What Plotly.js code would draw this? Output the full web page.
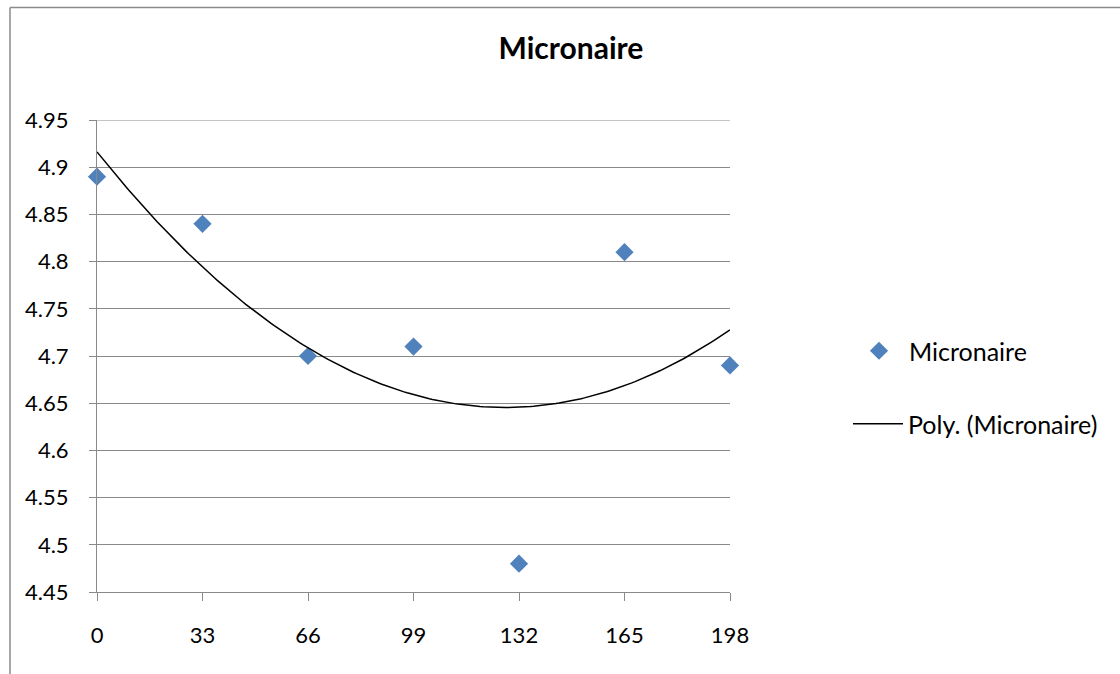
<!DOCTYPE html>
<html>
<head>
<meta charset="utf-8">
<script src="https://cdn.plot.ly/plotly-3.0.1.min.js"></script>
<style>
html,body{margin:0;padding:0;background:#fff;}
#chart{width:1120px;height:674px;}
</style>
</head>
<body>
<div id="chart"></div>
<script>
// Data
const xValues = [0, 33, 66, 99, 132, 165, 198];
const micronaire = [4.89, 4.84, 4.70, 4.71, 4.48, 4.81, 4.69];
const xTickVals = [0, 33, 66, 99, 132, 165, 198];
const xTickText = ['0', '33', '66', '99', '132', '165', '198'];
const yTickVals = [4.45, 4.5, 4.55, 4.6, 4.65, 4.7, 4.75, 4.8, 4.85, 4.9, 4.95];
const yTickText = ['4.45', '4.5', '4.55', '4.6', '4.65', '4.7', '4.75', '4.8', '4.85', '4.9', '4.95'];

// Second-order polynomial least-squares trendline (like Excel "Poly." trendline)
function polyFit2(xs, ys) {
  let n = xs.length, s = [0,0,0,0,0], t = [0,0,0];
  for (let i = 0; i < n; i++) {
    let p = 1;
    for (let k = 0; k <= 4; k++) { s[k] += p; if (k <= 2) t[k] += p * ys[i]; p *= xs[i]; }
  }
  let A = [[s[0], s[1], s[2], t[0]], [s[1], s[2], s[3], t[1]], [s[2], s[3], s[4], t[2]]];
  for (let c = 0; c < 3; c++) {
    let piv = c;
    for (let r = c + 1; r < 3; r++) if (Math.abs(A[r][c]) > Math.abs(A[piv][c])) piv = r;
    [A[c], A[piv]] = [A[piv], A[c]];
    for (let r = 0; r < 3; r++) {
      if (r === c) continue;
      const f = A[r][c] / A[c][c];
      for (let k = c; k < 4; k++) A[r][k] -= f * A[c][k];
    }
  }
  return [A[0][3] / A[0][0], A[1][3] / A[1][1], A[2][3] / A[2][2]];
}
const coef = polyFit2(xValues, micronaire);
const xMin = Math.min(...xValues), xMax = Math.max(...xValues);
const trendX = [], trendY = [];
for (let i = 0; i <= 200; i++) {
  const x = xMin + (xMax - xMin) * i / 200;
  trendX.push(x);
  trendY.push(coef[0] + coef[1] * x + coef[2] * x * x);
}

const W = 1120, H = 674;
const L = 97, R = 730, T = 120, B = 592;
const px = v => (v - L) / (R - L);
const py = v => (B - v) / (B - T);

const FONT = 'Lato, "Liberation Sans", sans-serif';
const gridColor = '#898989';
const yTop = yTickVals[yTickVals.length - 1];

const traces = [
  {
    x: xValues, y: micronaire, type: 'scatter', mode: 'markers', name: 'Micronaire',
    marker: { symbol: 'diamond', size: 14, color: '#4F81BD', line: { width: 0 } },
    legend: 'legend', cliponaxis: false
  },
  {
    x: trendX, y: trendY, type: 'scatter', mode: 'lines', name: 'Poly. (Micronaire)',
    line: { color: '#000000', width: 1.5 },
    legend: 'legend2', cliponaxis: false
  }
];

const layout = {
  width: W, height: H,
  margin: { l: L, r: W - R, t: T, b: H - B, pad: 0 },
  paper_bgcolor: '#ffffff', plot_bgcolor: '#ffffff',
  font: { family: FONT, size: 22, color: '#000000' },
  title: {
    text: '<b>Micronaire</b>', font: { family: FONT, size: 30, color: '#000000' },
    xref: 'paper', x: px(571), xanchor: 'center',
    yref: 'container', y: 1 - 48 / H, yanchor: 'middle'
  },
  showlegend: true,
  legend: {
    x: px(849), y: py(351), xanchor: 'left', yanchor: 'middle',
    font: { family: FONT, size: 25, color: '#000' }, bgcolor: 'rgba(0,0,0,0)', itemwidth: 50
  },
  legend2: {
    x: px(848), y: py(424), xanchor: 'left', yanchor: 'middle',
    font: { family: FONT, size: 25, color: '#000' }, bgcolor: 'rgba(0,0,0,0)', itemwidth: 50
  },
  xaxis: {
    range: [0, 198], tickmode: 'array', tickvals: xTickVals, ticktext: xTickText,
    showgrid: false, zeroline: false,
    showline: true, linecolor: gridColor, linewidth: 1,
    ticks: 'outside', ticklen: 8, tickcolor: gridColor, tickwidth: 1,
    ticklabelstandoff: 16,
    tickfont: { family: FONT, size: 22, color: '#000' }
  },
  yaxis: {
    range: [4.45, 4.95], tickmode: 'array', tickvals: yTickVals, ticktext: yTickText,
    showgrid: true, gridcolor: gridColor, gridwidth: 1, zeroline: false,
    showline: true, linecolor: gridColor, linewidth: 1,
    ticks: 'outside', ticklen: 7, tickcolor: gridColor, tickwidth: 1,
    ticklabelstandoff: 16,
    tickfont: { family: FONT, size: 22, color: '#000' }
  },
  shapes: [
    // top gridline (Plotly drops the gridline at the range edge)
    { type: 'line', xref: 'paper', yref: 'y', x0: 0, x1: 1, y0: yTop, y1: yTop,
      line: { color: gridColor, width: 1 }, layer: 'below' },
    // chart frame
    { type: 'line', xref: 'paper', yref: 'paper', x0: px(10), x1: px(1120), y0: py(7.5), y1: py(7.5),
      line: { color: '#8a8a8a', width: 1.5 }, layer: 'below' },
    { type: 'line', xref: 'paper', yref: 'paper', x0: px(10), x1: px(10), y0: py(7.5), y1: py(674),
      line: { color: '#8a8a8a', width: 1.5 }, layer: 'below' }
  ]
};

Plotly.newPlot('chart', traces, layout, { displayModeBar: false, staticPlot: true });
</script>
</body>
</html>
